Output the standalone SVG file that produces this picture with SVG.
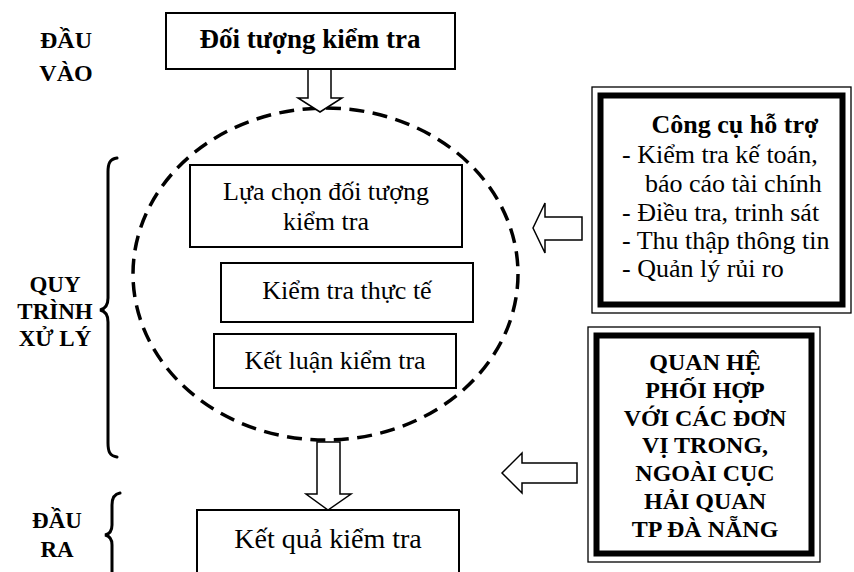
<svg xmlns="http://www.w3.org/2000/svg" width="854" height="572" viewBox="0 0 854 572">
<style>
text{font-family:"Liberation Serif","Times New Roman",serif;fill:#000}
.b{font-weight:bold}
.box{fill:#fff;stroke:#000;stroke-width:2}
.arr{fill:#fff;stroke:#000;stroke-width:1.5;stroke-linejoin:miter}
.brace{fill:none;stroke:#000;stroke-width:3;stroke-linecap:round}
.thin{fill:none;stroke:#000;stroke-width:1.3}
.thick{fill:none;stroke:#000;stroke-width:6}
</style>
<rect width="854" height="572" fill="#fff"/>

<g id="labels">
<text class="b" font-size="24" text-anchor="middle" x="66" y="48">ĐẦU</text>
<text class="b" font-size="24" text-anchor="middle" x="66" y="81">VÀO</text>
<text class="b" font-size="23" text-anchor="middle" x="55" y="292">QUY</text>
<text class="b" font-size="23" text-anchor="middle" x="55" y="319">TRÌNH</text>
<text class="b" font-size="23" text-anchor="middle" x="55" y="346">XỬ LÝ</text>
<text class="b" font-size="23" text-anchor="middle" x="57" y="528">ĐẦU</text>
<text class="b" font-size="23" text-anchor="middle" x="57" y="557">RA</text>
</g>

<g id="braces">
<path class="brace" d="M117,158 C110,159 108,163 108,172 L108,298 C108,305 105,309 100,310 C105,311 108,315 108,322 L108,443 C108,452 110,456 117,457"/>
<path class="brace" d="M120,493 C114,494 112,498 112,505 L112,525 C112,531 110,534 105,535 C110,536 112,539 112,545 L112,575"/>
</g>

<g id="process-circle">
<ellipse cx="325.5" cy="274" rx="192.5" ry="166" fill="none" stroke="#000" stroke-width="3.5" stroke-dasharray="15 8.5"/>
</g>

<g id="connectors">
<polygon class="arr" points="308,69 331,69 331,98 342,98 320,112 298,98 308,98"/>
<polygon class="arr" points="317,442 340,442 340,494 351,494 328,510 306,494 317,494"/>
<polygon class="arr" points="582,217 545,217 545,203 533,228 545,253 545,240 582,240"/>
<polygon class="arr" points="577,463 522,463 522,453 502,473 522,493 522,483 577,483"/>
</g>

<g id="node-input">
<rect class="box" x="166" y="13" width="289" height="56"/>
<text class="b" font-size="27" text-anchor="middle" x="310" y="48">Đối tượng kiểm tra</text>
</g>

<g id="node-select">
<rect class="box" x="190" y="165" width="272" height="82"/>
<text font-size="26" text-anchor="middle" x="326" y="200">Lựa chọn đối tượng</text>
<text font-size="26" text-anchor="middle" x="326" y="230">kiểm tra</text>
</g>

<g id="node-check">
<rect class="box" x="221" y="263" width="252" height="59"/>
<text font-size="26" text-anchor="middle" x="347" y="299">Kiểm tra thực tế</text>
</g>

<g id="node-conclude">
<rect class="box" x="214" y="334" width="242" height="54"/>
<text font-size="26" text-anchor="middle" x="335" y="369">Kết luận kiểm tra</text>
</g>

<g id="node-result">
<rect class="box" x="197" y="510" width="262" height="80"/>
<text font-size="28" text-anchor="middle" x="328" y="548">Kết quả kiểm tra</text>
</g>

<g id="node-tools">
<rect x="592" y="87" width="259" height="226" fill="#fff"/>
<rect class="thin" x="592" y="87" width="259" height="226"/>
<rect class="thick" x="600.5" y="95.5" width="242" height="209"/>
<text class="b" font-size="26" text-anchor="middle" x="735" y="133">Công cụ hỗ trợ</text>
<text font-size="26" x="622" y="163">- Kiểm tra kế toán,</text>
<text font-size="26" x="645" y="192">báo cáo tài chính</text>
<text font-size="26" x="622" y="221">- Điều tra, trinh sát</text>
<text font-size="26" x="622" y="249">- Thu thập thông tin</text>
<text font-size="26" x="622" y="277">- Quản lý rủi ro</text>
</g>

<g id="node-coop">
<rect x="588" y="327" width="232" height="235" fill="#fff"/>
<rect class="thin" x="588" y="327" width="232" height="235"/>
<rect class="thick" x="596.5" y="335.5" width="215" height="218"/>
<g class="b" font-size="24" text-anchor="middle">
<text x="705" y="370">QUAN HỆ</text>
<text x="705" y="398">PHỐI HỢP</text>
<text x="705" y="426">VỚI CÁC ĐƠN</text>
<text x="705" y="453">VỊ TRONG,</text>
<text x="705" y="481">NGOÀI CỤC</text>
<text x="705" y="509">HẢI QUAN</text>
<text x="705" y="537">TP ĐÀ NẴNG</text>
</g>
</g>
</svg>
